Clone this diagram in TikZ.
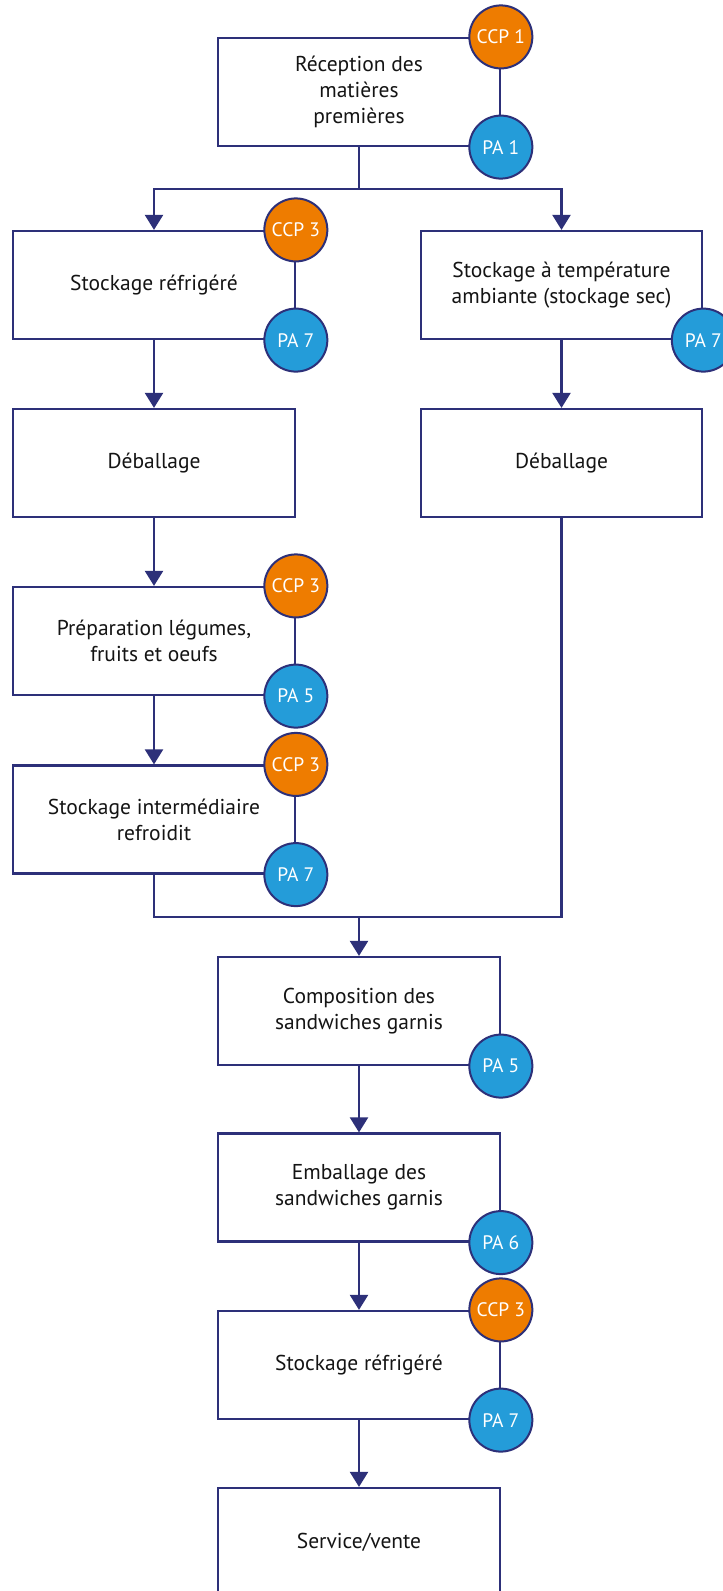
\documentclass[tikz,border=0pt]{standalone}
\usepackage{fontspec}
\setmainfont{PT Sans}
\usetikzlibrary{arrows.meta}
\definecolor{navy}{HTML}{2D3079}
\definecolor{ccporange}{HTML}{EE7C00}
\definecolor{pablue}{HTML}{249CD9}
\definecolor{txt}{HTML}{141414}
\tikzset{
  stepbox/.style={draw=navy, line width=2.2pt, fill=white, minimum width=281.5pt, minimum height=108pt,
    inner sep=0pt, align=center, text=txt, font=\fontsize{21.5}{26}\selectfont},
  badge/.style={circle, draw=navy, line width=2pt, minimum size=63pt, inner sep=0pt, text=white,
    font=\fontsize{19.5}{21}\selectfont},
  ccp/.style={badge, fill=ccporange},
  pa/.style={badge, fill=pablue},
  link/.style={draw=navy, line width=2.2pt, line join=miter},
  flow/.style={link, -{Triangle[length=15pt,width=18pt]}}
}
\begin{document}
\begin{tikzpicture}[x=1pt,y=-1pt]
\clip (0,0) rectangle (723,1591);
\fill[white] (0,0) rectangle (723,1591);

% boxes
\node[stepbox] (rec)   at (359,92)    {Réception des\\matières\\premières};
\node[stepbox] (sr1)   at (154,285)   {Stockage réfrigéré};
\node[stepbox] (sta)   at (561.5,285) {Stockage à température\\ambiante (stockage sec)};
\node[stepbox] (deb1)  at (154,463)   {Déballage};
\node[stepbox] (deb2)  at (561.5,463) {Déballage};
\node[stepbox] (prep)  at (154,641)   {Préparation légumes,\\fruits et oeufs};
\node[stepbox] (inter) at (154,819.5) {Stockage intermédiaire\\refroidit};
\node[stepbox] (comp)  at (359,1011)  {Composition des\\sandwiches garnis};
\node[stepbox] (emb)   at (359,1187.5){Emballage des\\sandwiches garnis};
\node[stepbox] (sr2)   at (359,1365)  {Stockage réfrigéré};
\node[stepbox] (serv)  at (359,1542)  {Service/vente};

% connectors
\coordinate (split) at (359,189);
\coordinate (merge) at (359,917);
\draw[link] (rec.south) -- (split);
\draw[flow] (split) -| (sr1.north);
\draw[flow] (split) -| (sta.north);
\draw[flow] (sr1) -- (deb1);
\draw[flow] (sta) -- (deb2);
\draw[flow] (deb1) -- (prep);
\draw[flow] (prep) -- (inter);
\draw[link] (inter.south) |- (merge);
\draw[link] (deb2.south) |- (merge);
\draw[flow] (merge) -- (comp.north);
\draw[flow] (comp) -- (emb);
\draw[flow] (emb) -- (sr2);
\draw[flow] (sr2) -- (serv);

% badges
\node[ccp] (c1) at (rec.north east) {CCP 1};
\node[pa]  (p1) at (rec.south east) {PA 1};
\node[ccp] (c2) at (sr1.north east) {CCP 3};
\node[pa]  (p2) at (sr1.south east) {PA 7};
\node[pa]  (p3) at (sta.south east) {PA 7};
\node[ccp] (c4) at (prep.north east) {CCP 3};
\node[pa]  (p4) at (prep.south east) {PA 5};
\node[ccp] (c5) at (inter.north east) {CCP 3};
\node[pa]  (p5) at (inter.south east) {PA 7};
\node[pa]  (p6) at (comp.south east) {PA 5};
\node[pa]  (p7) at (emb.south east) {PA 6};
\node[ccp] (c8) at (sr2.north east) {CCP 3};
\node[pa]  (p8) at (sr2.south east) {PA 7};
\end{tikzpicture}
\end{document}
